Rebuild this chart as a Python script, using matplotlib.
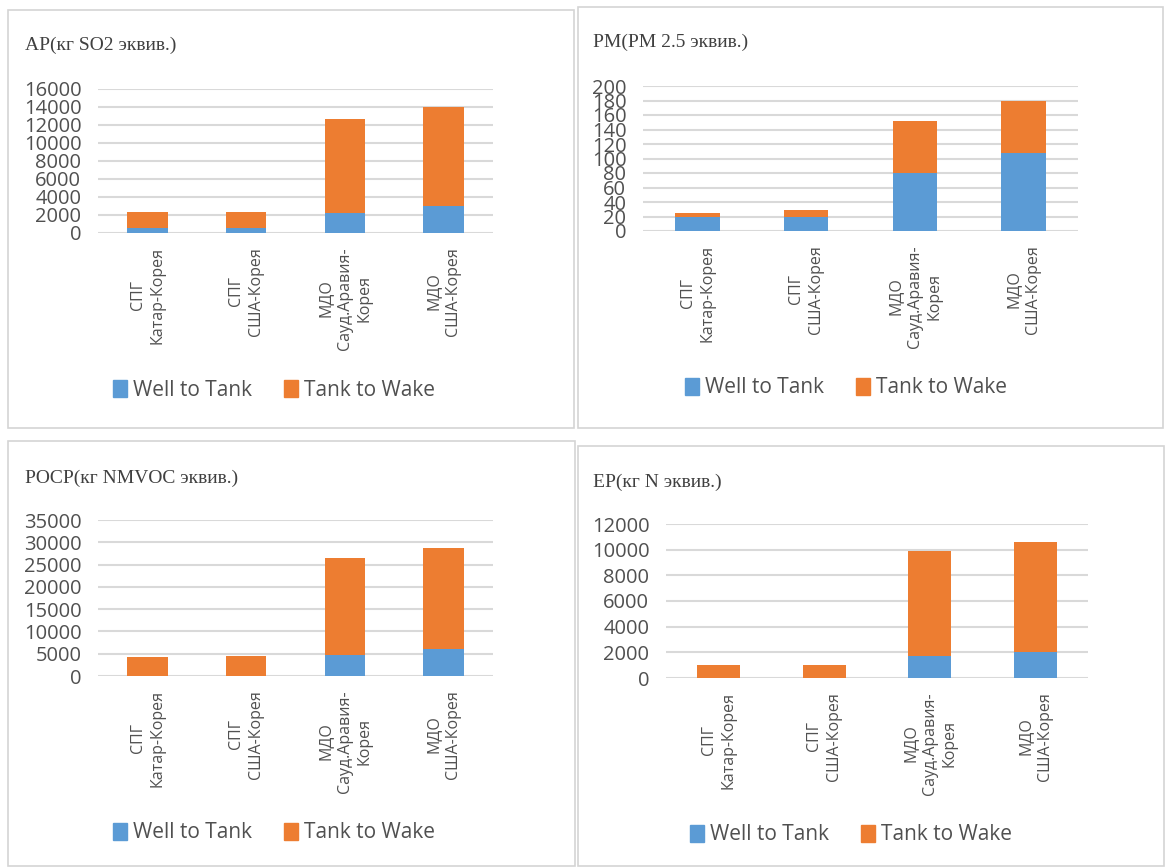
import matplotlib
matplotlib.use("Agg")
import matplotlib.pyplot as plt
from matplotlib.patches import Rectangle, Patch
from matplotlib.ticker import MultipleLocator

# категории (общие для всех четырёх графиков)
categories = ["СПГ\nКатар-Корея", "СПГ\nСША-Корея",
              "МДО\nСауд.Аравия-\nКорея", "МДО\nСША-Корея"]

# AP, кг SO2 экв.
ap_wtt = [550, 600, 2200, 3000]
ap_ttw = [1750, 1750, 10500, 11000]

# PM, PM 2.5 экв.
pm_wtt = [19, 19.5, 80, 108]
pm_ttw = [6, 10, 72, 72]

# POCP, кг NMVOC экв.
pocp_wtt = [100, 100, 4700, 6000]
pocp_ttw = [4200, 4400, 21700, 22800]

# EP, кг N экв.
ep_wtt = [30, 30, 1700, 2000]
ep_ttw = [970, 970, 8200, 8600]

BLUE = "#5b9bd5"
ORANGE = "#ed7d31"
GRID = "#d9d9d9"
TXT = "#505050"

W, H = 1166, 868
fig = plt.figure(figsize=(W / 100, H / 100), dpi=100)
fig.patch.set_facecolor("white")


def fx(x):
    return x / W


def fy(y):
    return 1 - y / H


# рамки панелей
for (x0, y0, x1, y1) in [(8, 10, 574, 428), (578, 7, 1163, 428),
                         (8, 441, 575, 866), (578, 446, 1164, 866)]:
    fig.patches.append(Rectangle((fx(x0), fy(y1)), fx(x1 - x0), (y1 - y0) / H,
                                 transform=fig.transFigure, fill=False,
                                 edgecolor="#d4d4d4", linewidth=1.2))

panels = [
    # (title, wtt, ttw, ymax, step, axes px box, title pos, legend pos)
    ("AP(кг SO2 эквив.)", ap_wtt, ap_ttw, 16000, 2000,
     (98, 89, 493, 233), (25, 45), (274, 390)),
    ("PM(PM 2.5 эквив.)", pm_wtt, pm_ttw, 200, 20,
     (643, 86, 1078, 231), (593, 42), (846, 388)),
    ("POCP(кг NMVOC эквив.)", pocp_wtt, pocp_ttw, 35000, 5000,
     (98, 520, 493, 676), (25, 478), (274, 833)),
    ("EP(кг N эквив.)", ep_wtt, ep_ttw, 12000, 2000,
     (666, 524, 1088, 678), (593, 482), (851, 835)),
]

for title, wtt, ttw, ymax, step, box, tpos, lpos in panels:
    x0, y0, x1, y1 = box
    ax = fig.add_axes([fx(x0), fy(y1), fx(x1 - x0), (y1 - y0) / H])
    x = range(len(categories))
    ax.bar(x, wtt, width=0.41, color=BLUE, zorder=3)
    ax.bar(x, ttw, bottom=wtt, width=0.41, color=ORANGE, zorder=3)
    ax.set_xlim(-0.5, len(categories) - 0.5)
    ax.set_ylim(0, ymax)
    ax.yaxis.set_major_locator(MultipleLocator(step))
    ax.yaxis.grid(True, color=GRID, linewidth=1.5, zorder=0)
    ax.set_axisbelow(True)
    for s in ax.spines.values():
        s.set_visible(False)
    ax.set_xticks(list(x))
    ax.set_xticklabels(categories, rotation=90, fontsize=11.5, color=TXT,
                       family="Open Sans", linespacing=1.3,
                       multialignment="center")
    ax.tick_params(axis="x", length=0, pad=10)
    ax.tick_params(axis="y", length=0, pad=12, labelsize=14.5, labelcolor=TXT)
    for lab in ax.get_yticklabels():
        lab.set_family("Open Sans")
    ax.patch.set_alpha(0)

    fig.text(fx(tpos[0]), fy(tpos[1]), title, family="Liberation Serif",
             fontsize=14, color="#404040", ha="left", va="center")

    handles = [Patch(color=BLUE, label="Well to Tank"),
               Patch(color=ORANGE, label="Tank to Wake")]
    fig.legend(handles=handles, loc="center", ncol=2, frameon=False,
               bbox_to_anchor=(fx(lpos[0]), fy(lpos[1])),
               prop={"family": "Open Sans", "size": 15},
               labelcolor=TXT, handlelength=0.7, handleheight=0.9,
               handletextpad=0.3, columnspacing=1.5)

fig.savefig("out.png", dpi=100, facecolor="white")
